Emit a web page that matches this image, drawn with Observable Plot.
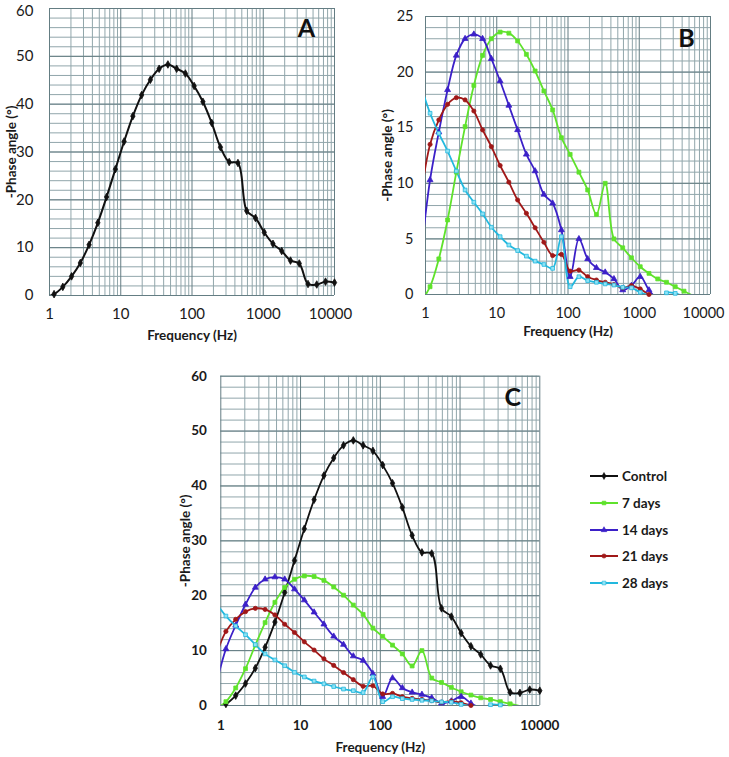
<!DOCTYPE html>
<html><head><meta charset="utf-8">
<script src="https://cdn.jsdelivr.net/npm/d3@7"></script>
<script src="https://cdn.jsdelivr.net/npm/@observablehq/plot@0.6"></script>
<style>
body{margin:0;background:#fff;}
#wrap{position:relative;width:729px;height:757px;overflow:hidden;font-family:Lato,"Open Sans",sans-serif;color:#1a1a1a;}
#wrap svg.plotpanel{position:absolute;}
#legend{position:absolute;left:588px;top:463px;font:bold 13.5px Lato,sans-serif;color:#1a1a1a;}
#legend .row{height:26.7px;display:flex;align-items:center;}
#legend svg{margin-right:3px;}
</style></head><body><div id="wrap"><div id="legend"></div></div>
<script>
// Frequencies (Hz); the first one lies just below the 1 Hz axis limit (clipped, as in the original)
const freq = [0.873, 1.159, 1.538, 2.041, 2.709, 3.594, 4.770, 6.330, 8.400, 11.15, 14.79, 19.63, 26.05, 34.57, 45.88, 60.89, 80.81, 107.2, 142.3, 188.9, 250.7, 332.7, 441.5, 585.9, 777.6, 1032, 1369, 1817, 2412, 3201, 4248, 5636, 7480, 10000];

const seriesNames = ["Control", "7 days", "14 days", "21 days", "28 days"];
const control = [-0.35, 0.28, 1.8, 4.0, 6.8, 10.6, 15.2, 20.6, 26.4, 32.2, 37.5, 41.9, 45.1, 47.4, 48.3, 47.4, 46.4, 43.8, 40.5, 36.1, 31.0, 27.9, 27.7, 17.7, 16.2, 13.2, 10.8, 9.3, 7.3, 6.7, 2.4, 2.3, 2.9, 2.7];
const days7 = [-0.6, 0.7, 3.2, 6.7, 11.0, 15.1, 18.8, 21.5, 23.0, 23.6, 23.5, 22.8, 21.6, 20.1, 18.3, 16.6, 14.1, 12.6, 11.0, 9.4, 7.2, 10.0, 5.0, 4.2, 3.3, 2.5, 1.9, 1.4, 1.1, 0.7, 0.3, -0.1];
const days14 = [3.8, 10.3, 14.6, 18.4, 21.5, 23.0, 23.4, 23.0, 21.2, 19.2, 17.0, 14.8, 12.6, 11.1, 9.0, 8.2, 5.8, 1.6, 5.0, 3.2, 2.4, 2.0, 1.4, 0.4, 0.8, 1.6, 0.4, -0.5];
const days21 = [9.1, 13.5, 15.7, 17.1, 17.7, 17.5, 16.5, 14.8, 13.3, 11.6, 10.1, 8.5, 7.3, 6.0, 4.7, 3.5, 3.6, 2.1, 2.2, 1.6, 1.3, 1.1, 0.9, 0.6, 0.8, 0.5, 0.0, -0.3];
const days28 = [18.65, 16.3, 14.5, 12.9, 11.1, 9.4, 8.3, 7.25, 6.05, 5.2, 4.45, 3.95, 3.45, 3.0, 2.7, 2.35, 5.2, 0.7, 1.6, 1.25, 1.1, 0.95, 0.85, 0.65, 0.6, 0.2, -0.1, -0.6, 0.15, 0.1, -0.2];

const xTicks = [1, 10, 100, 1000, 10000];
const yTicksA = [0, 10, 20, 30, 40, 50, 60];
const yTicksB = [0, 5, 10, 15, 20, 25];

const styles = {
  "Control": {color: "#111111", symbol: "diamond", fill: "#111111", r: 2.3},
  "7 days":  {color: "#5fe22c", symbol: "square", fill: "#5fe22c", r: 2.2},
  "14 days": {color: "#3b20c8", symbol: "triangle", fill: "#3b20c8", r: 2.2},
  "21 days": {color: "#a01818", symbol: "circle", fill: "#a01818", r: 2.1},
  "28 days": {color: "#22b8de", symbol: "square", fill: "#8fe3f5", r: 2.1}
};
const valuesByName = {"Control": control, "7 days": days7, "14 days": days14, "21 days": days21, "28 days": days28};

function rowsFor(name) {
  return valuesByName[name].map((v, i) => ({series: name, f: freq[i], v}));
}

const minorColor = "#91a6ab", majorColor = "#647d83";
const minorX = [1, 10, 100, 1000].flatMap(d => [2, 3, 4, 5, 6, 7, 8, 9].map(k => k * d));

function panel(o) {
  const minorY = d3.range(0, o.yMax + 1e-9, o.yMinor);
  const xMain = xTicks.slice(0, -1), xLast = xTicks.slice(-1);
  const yMain = o.yTicks.slice(0, -1), yLast = o.yTicks.slice(-1);
  const axisOpts = {tickSize: 0, tickPadding: o.padX, tickFormat: d => String(d), fontSize: o.tickSize, fontWeight: o.tickWeight, label: null};
  const yAxisOpts = {tickSize: 0, tickPadding: o.padY, tickFormat: d => String(d), fontSize: o.tickSize, fontWeight: o.tickWeight, label: null};
  const marks = [
    Plot.ruleX(minorX, {stroke: minorColor, strokeWidth: 1}),
    Plot.ruleY(minorY, {stroke: minorColor, strokeWidth: 1}),
    Plot.ruleX(xTicks, {stroke: majorColor, strokeWidth: 1}),
    Plot.ruleY(o.yTicks, {stroke: majorColor, strokeWidth: 1}),
    Plot.axisX(xMain, axisOpts),
    Plot.axisX(xLast, {...axisOpts, dx: o.lastDx}),
    Plot.axisY(yMain, yAxisOpts),
    Plot.axisY(yLast, {...yAxisOpts, dy: o.topDy}),
    Plot.text(["Frequency (Hz)"], {frameAnchor: "bottom", dy: o.xTitleDy, lineAnchor: "middle", textAnchor: "middle", fontSize: 13.5, fontWeight: "bold", fill: "#1a1a1a"}),
    Plot.text(["-Phase angle (°)"], {frameAnchor: "left", dx: o.yTitleDx, rotate: -90, lineAnchor: "middle", textAnchor: "middle", fontSize: 13.5, fontWeight: "bold", fill: "#1a1a1a"}),
    Plot.text([o.letter], {frameAnchor: "top-right", dx: o.letterDx, dy: o.letterDy, textAnchor: "middle", lineAnchor: "middle", fontSize: 25, fontWeight: "bold", fill: "#111"})
  ];
  for (const name of o.names) {
    const s = styles[name];
    marks.push(Plot.line(rowsFor(name), {x: "f", y: "v", stroke: s.color, strokeWidth: o.lw, curve: "catmull-rom", clip: true}));
  }
  for (const name of o.names) {
    const s = styles[name];
    const rows = rowsFor(name).filter(d => d.f >= 1 && d.v >= 0);
    marks.push(Plot.dot(rows, {x: "f", y: "v", symbol: s.symbol, r: s.r, fill: s.fill, stroke: s.color, strokeWidth: 0.8}));
  }
  const svg = Plot.plot({
    width: o.width, height: o.height,
    marginTop: o.mt, marginRight: o.mr, marginBottom: o.mb, marginLeft: o.ml,
    x: {type: "log", domain: [1, 10000], axis: null},
    y: {domain: [0, o.yMax], axis: null},
    style: {fontFamily: "Lato, 'Open Sans', sans-serif", color: "#1a1a1a", background: "transparent", overflow: "visible"},
    marks
  });
  svg.classList.add("plotpanel");
  svg.style.left = o.left + "px";
  svg.style.top = o.top + "px";
  document.getElementById("wrap").appendChild(svg);
}

panel({left: 0, top: 0, width: 365, height: 345, mt: 8, mr: 31, mb: 50, ml: 49,
  yMax: 60, yMinor: 2, yTicks: yTicksA, names: ["Control"], letter: "A", letterDx: -28, letterDy: 20,
  padX: 13, padY: 16, tickSize: 15, tickWeight: "normal", xTitleDy: 40, yTitleDx: -38, lw: 2, lastDx: -4, topDy: 2.5});

panel({left: 365, top: 0, width: 364, height: 345, mt: 16, mr: 19, mb: 51, ml: 60,
  yMax: 25, yMinor: 1, yTicks: yTicksB, names: ["7 days", "14 days", "21 days", "28 days"], letter: "B", letterDx: -24, letterDy: 22,
  padX: 13, padY: 12, tickSize: 14.5, tickWeight: "normal", xTitleDy: 37, yTitleDx: -38, lw: 1.8, lastDx: -7, topDy: 0});

panel({left: 150, top: 350, width: 420, height: 407, mt: 25.7, mr: 30.7, mb: 52, ml: 70.3,
  yMax: 60, yMinor: 2, yTicks: yTicksA, names: ["Control", "7 days", "14 days", "21 days", "28 days"], letter: "C", letterDx: -27, letterDy: 22,
  padX: 15, padY: 14, tickSize: 13.5, tickWeight: "bold", xTitleDy: 42, yTitleDx: -35, lw: 1.8, lastDx: 0, topDy: 0});

// Legend
const legend = document.getElementById("legend");
const ns = "http://www.w3.org/2000/svg";
for (const name of seriesNames) {
  const s = styles[name];
  const row = document.createElement("div");
  row.className = "row";
  const sw = document.createElementNS(ns, "svg");
  sw.setAttribute("width", 31); sw.setAttribute("height", 10);
  const ln = document.createElementNS(ns, "line");
  ln.setAttribute("x1", 2); ln.setAttribute("x2", 30); ln.setAttribute("y1", 5); ln.setAttribute("y2", 5);
  ln.setAttribute("stroke", s.color); ln.setAttribute("stroke-width", 2);
  sw.appendChild(ln);
  const mk = document.createElementNS(ns, "path");
  const sym = {diamond: d3.symbolDiamond, square: d3.symbolSquare, triangle: d3.symbolTriangle, circle: d3.symbolCircle}[s.symbol];
  mk.setAttribute("d", d3.symbol(sym, 14)());
  mk.setAttribute("transform", "translate(16,5)");
  mk.setAttribute("fill", s.fill); mk.setAttribute("stroke", s.color); mk.setAttribute("stroke-width", 0.6);
  sw.appendChild(mk);
  row.appendChild(sw);
  const t = document.createElement("span");
  t.textContent = name;
  row.appendChild(t);
  legend.appendChild(row);
}
</script></body></html>
